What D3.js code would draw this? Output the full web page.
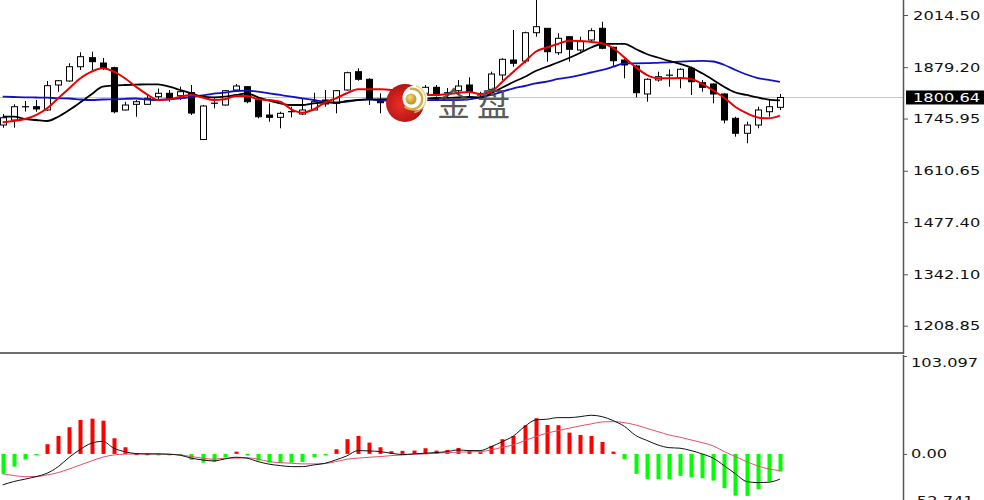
<!DOCTYPE html>
<html><head><meta charset="utf-8">
<script src="https://cdn.jsdelivr.net/npm/d3@7/dist/d3.min.js"></script>
<style>html,body{margin:0;padding:0;background:#fff;overflow:hidden}svg{display:block}</style>
</head><body>
<svg id="c" width="984" height="500"></svg>
<script>
// ---- data ----
const opens  = [1729.2,1742.2,1775.9,1776.7,1768.2,1833.0,1843.4,1880.4,1903.8,1890.0,1877.9,1768.2,1782.9,1782.9,1802.7,1811.5,1805.2,1813.5,1691.7,1785.0,1781.1,1820.0,1828.6,1794.1,1755.1,1749.2,1764.8,1757.7,1768.2,1794.1,1785.5,1820.0,1867.5,1847.8,1795.9,1788.9,1804.5,1799.3,1811.5,1827.0,1812.3,1818.2,1833.0,1805.8,1821.8,1858.9,1897.8,1895.2,1968.6,1980.0,1916.7,1958.2,1923.7,1949.7,1980.0,1930.8,1897.8,1882.3,1809.7,1846.0,1858.1,1850.4,1876.3,1839.0,1835.6,1809.7,1746.6,1707.8,1729.2,1763.7,1775.1];
const highs  = [1757.7,1782.9,1791.5,1794.1,1843.4,1846.0,1889.3,1917.8,1919.3,1903.0,1880.4,1789.7,1794.1,1807.1,1823.9,1820.0,1828.6,1833.0,1781.1,1798.5,1820.0,1835.6,1830.4,1798.5,1785.5,1763.7,1776.7,1798.5,1813.0,1820.0,1820.0,1867.5,1876.3,1850.4,1811.5,1809.7,1812.3,1817.4,1833.0,1833.0,1825.2,1846.0,1853.0,1815.6,1867.5,1902.2,1975.6,1971.2,2074.1,1980.0,1967.1,1958.2,1958.2,1980.0,1997.1,1932.3,1902.2,1884.9,1850.4,1867.5,1873.7,1876.3,1880.4,1846.0,1837.4,1811.5,1750.7,1737.8,1776.7,1796.7,1809.7];
const lows   = [1722.3,1722.3,1764.0,1763.7,1765.6,1815.6,1841.5,1871.9,1867.5,1871.9,1759.5,1766.9,1750.7,1781.1,1791.5,1789.7,1794.1,1755.1,1690.4,1772.5,1779.3,1815.6,1785.5,1746.6,1737.8,1720.7,1749.2,1755.1,1768.2,1776.7,1759.5,1818.7,1844.1,1781.1,1759.5,1783.7,1791.5,1796.7,1807.1,1802.7,1801.9,1807.1,1802.7,1798.5,1820.0,1846.0,1880.4,1889.3,1958.2,1893.4,1910.8,1893.4,1919.3,1945.3,1925.6,1880.4,1850.4,1801.1,1789.7,1841.5,1828.6,1824.4,1807.1,1815.6,1785.5,1733.6,1699.0,1681.9,1720.7,1750.7,1768.2];
const closes = [1748.1,1776.7,1777.2,1770.8,1831.2,1844.1,1880.4,1906.4,1893.4,1875.8,1763.7,1781.1,1789.7,1798.5,1811.5,1798.5,1815.6,1760.3,1778.5,1786.3,1818.2,1830.4,1789.7,1750.7,1749.2,1759.5,1762.9,1768.2,1789.7,1783.7,1818.2,1864.9,1847.8,1795.9,1787.1,1804.5,1796.7,1812.3,1827.0,1807.1,1813.5,1830.4,1815.6,1808.4,1861.5,1899.6,1889.3,1968.6,1984.2,1919.3,1954.1,1925.6,1945.3,1973.8,1928.2,1896.0,1884.9,1813.0,1847.8,1854.5,1858.9,1873.7,1841.5,1827.0,1809.7,1742.2,1707.8,1729.2,1768.2,1776.7,1800.64];

const maRed   = [1736.3,1739.6,1744.8,1755.1,1772.6,1798.5,1824.4,1850.4,1867.5,1876.3,1867.5,1850.4,1828.6,1808.9,1794.1,1795.9,1802.7,1807.1,1800.6,1794.1,1795.9,1804.5,1804.5,1795.9,1794.1,1789.7,1770.0,1761.2,1770.0,1787.1,1798.5,1811.5,1821.8,1821.8,1821.8,1820.0,1814.8,1809.7,1807.1,1807.1,1809.7,1812.3,1814.8,1809.7,1815.6,1841.5,1867.5,1892.6,1919.3,1930.2,1939.3,1947.9,1947.1,1944.5,1941.1,1928.2,1904.3,1879.7,1859.4,1850.6,1850.4,1851.1,1848.6,1836.1,1818.7,1799.3,1775.9,1759.9,1749.0,1746.6,1753.6];
const maBlack = [1750.8,1750.8,1744.8,1742.2,1739.6,1750.8,1768.2,1788.1,1808.9,1828.6,1831.7,1833.0,1833.8,1834.8,1834.8,1828.6,1820.0,1811.5,1802.7,1801.1,1802.7,1807.1,1811.5,1801.1,1792.3,1785.5,1781.1,1781.1,1785.5,1787.1,1787.1,1791.5,1794.1,1795.9,1795.9,1796.7,1796.7,1796.7,1798.0,1799.3,1799.3,1800.6,1801.9,1800.6,1811.5,1826.5,1840.8,1853.7,1869.3,1880.4,1891.3,1903.0,1916.0,1930.2,1939.3,1939.8,1939.8,1926.3,1913.4,1904.3,1895.7,1888.0,1878.4,1863.3,1846.0,1827.8,1813.6,1807.1,1800.6,1795.1,1793.3];
const maBlue  = [1802.7,1801.9,1801.1,1800.6,1800.1,1798.5,1798.0,1795.4,1794.1,1795.4,1795.9,1797.2,1798.0,1795.4,1794.1,1795.9,1798.5,1801.9,1805.8,1810.9,1813.0,1817.4,1818.2,1815.6,1811.5,1807.1,1802.7,1798.5,1794.1,1789.7,1787.1,1789.7,1794.1,1795.9,1792.8,1792.8,1792.8,1792.8,1793.3,1794.1,1794.1,1794.1,1795.9,1800.6,1807.1,1815.6,1824.4,1830.4,1837.4,1841.5,1848.6,1853.0,1858.9,1865.4,1871.9,1880.4,1889.3,1889.3,1889.5,1890.6,1891.9,1893.4,1894.7,1895.7,1893.9,1884.9,1871.9,1860.2,1851.1,1846.0,1840.8];

const macdHist = [-21.0,-13.4,-5.6,-1.4,10.2,18.9,28.1,35.8,37.1,35.0,16.5,7.0,0.3,0.2,-0.2,-1.1,-1.1,-6.3,-9.2,-8.4,-3.5,2.4,-1.4,-7.0,-9.2,-9.8,-9.2,-8.4,-3.5,-1.4,4.9,15.5,18.9,11.9,7.0,2.8,3.2,3.5,6.0,3.5,4.2,6.3,3.2,1.8,8.4,15.5,18.9,30.2,37.6,30.5,30.2,22.4,20.0,18.9,12.6,2.4,-5.6,-21.0,-26.3,-26.6,-26.6,-23.1,-24.5,-25.6,-28.1,-36.1,-43.9,-44.2,-37.1,-29.1,-18.6];
const macdLine = [-32.6,-29.1,-26.6,-23.9,-20.3,-13.4,-3.5,4.9,11.3,13.2,6.0,2.4,0.3,0,0,-0.3,-1.4,-4.5,-6.3,-7.4,-5.3,-3.5,-4.5,-8.1,-10.8,-12.3,-13.4,-13.4,-11.6,-10.0,-6.3,-2.1,3.5,3.2,2.4,0.7,-0.7,0,0.7,1.4,2.4,4.2,3.5,3.5,7.7,12.9,18.9,28.7,35.8,36.5,38.2,38.2,39.2,40.7,39.2,35.0,29.0,19.5,14.3,9.5,6.6,6.0,3.5,0,-4.5,-12.6,-21.0,-29.1,-30.2,-29.8,-26.6];
const signalLine = [-21.0,-22.8,-23.9,-23.9,-22.1,-19.7,-15.8,-11.6,-7.4,-3.5,-1.1,-0.3,0,0,0,-0.5,-1.1,-2.8,-4.5,-5.6,-4.5,-4.5,-4.0,-5.5,-8.1,-9.2,-9.8,-10.5,-10.5,-10.1,-8.1,-5.6,-4.5,-3.5,-2.8,-1.8,-1.1,-0.3,0,0.7,1.4,1.8,2.1,2.4,4.2,7.0,9.5,14.0,18.2,21.8,24.5,27.0,29.5,31.6,33.7,34.0,32.9,30.5,27.0,23.5,20.0,17.6,14.7,11.9,8.4,2.4,-2.8,-8.1,-12.6,-15.8,-17.6];

const priceTicks = [2014.50,1879.20,1745.95,1610.65,1477.40,1342.10,1208.85];
const macdTicks = [103.097,0,-52.741];
const macdTickLabels = ["103.097","0.00","-52.741"];
const lastPrice = 1800.64;
const logoText = "金盘";

// ---- layout ----
const svg = d3.select("#c");
const axisX = 904, mainBottom = 353;
const x = d3.scaleLinear().domain([0, opens.length - 1]).range([2.7, 779.9]);
const y = d3.scaleLinear().domain([1208.85, 2014.5]).range([325.7, 15]);
const ym = d3.scaleLinear().domain([-52.741, 103.097]).range([504, 356]);
const FONT = "'DejaVu Sans', Verdana, sans-serif";
const SX = 1.3;

svg.append("defs").append("clipPath").attr("id","mainClip")
  .append("rect").attr("x",0).attr("y",0).attr("width",axisX).attr("height",mainBottom-1);
svg.select("defs").append("clipPath").attr("id","macdClip")
  .append("rect").attr("x",0).attr("y",mainBottom+1).attr("width",axisX).attr("height",500-mainBottom);

const main = svg.append("g").attr("clip-path","url(#mainClip)");

// current price line
main.append("line").attr("x1",0).attr("x2",axisX).attr("y1",Math.round(y(lastPrice))+0.5).attr("y2",Math.round(y(lastPrice))+0.5)
  .attr("stroke","#c6c6c6").attr("stroke-width",1);

// candles
const idx = d3.range(opens.length);
const bw = 6;
const cg = main.append("g");
idx.forEach(i => {
  const cx = Math.round(x(i)) + 0.5;
  const o = y(opens[i]), c = y(closes[i]);
  cg.append("line").attr("x1",cx).attr("x2",cx).attr("y1",y(highs[i])).attr("y2",y(lows[i]))
    .attr("stroke","#000").attr("stroke-width",1);
  const top = Math.min(o,c), h = Math.abs(o-c);
  if (h < 1.2) {
    cg.append("line").attr("x1",cx-bw/2-0.5).attr("x2",cx+bw/2+0.5).attr("y1",(o+c)/2).attr("y2",(o+c)/2)
      .attr("stroke","#000").attr("stroke-width",1.2);
  } else {
    const bull = closes[i] >= opens[i];
    cg.append("rect").attr("x",cx-bw/2).attr("y",top).attr("width",bw).attr("height",h)
      .attr("fill", bull ? "#fff" : "#000").attr("stroke","#000").attr("stroke-width",1);
  }
});

// moving averages
const lineP = arr => d3.line().x((d,i)=>x(i)).y(d=>y(d)).curve(d3.curveMonotoneX)(arr);
main.append("path").attr("d",lineP(maBlue)).attr("fill","none").attr("stroke","#1212c4").attr("stroke-width",1.8);
main.append("path").attr("d",lineP(maBlack)).attr("fill","none").attr("stroke","#000").attr("stroke-width",1.8);
main.append("path").attr("d",lineP(maRed)).attr("fill","none").attr("stroke","#ee0000").attr("stroke-width",2);

// logo watermark
const logo = svg.append("g");
const defs = svg.select("defs");
const rg = defs.append("radialGradient").attr("id","redG").attr("cx","40%").attr("cy","55%").attr("r","65%");
rg.append("stop").attr("offset","0%").attr("stop-color","#e8302a");
rg.append("stop").attr("offset","100%").attr("stop-color","#a80c10");
const gg = defs.append("radialGradient").attr("id","goldG").attr("cx","40%").attr("cy","35%").attr("r","70%");
gg.append("stop").attr("offset","0%").attr("stop-color","#f3dc7a");
gg.append("stop").attr("offset","100%").attr("stop-color","#b08a20");
logo.append("circle").attr("cx",405).attr("cy",103).attr("r",19).attr("fill","url(#redG)");
logo.append("circle").attr("cx",415).attr("cy",98).attr("r",12.5).attr("fill","#fff");
logo.append("path").attr("d", d3.arc().innerRadius(9).outerRadius(11.5).startAngle(-0.2).endAngle(Math.PI*1.25)())
  .attr("transform","translate(412,99)").attr("fill","#d1ad48");
logo.append("path").attr("d", d3.arc().innerRadius(13).outerRadius(14.5).startAngle(0.3).endAngle(Math.PI*0.95)())
  .attr("transform","translate(412,99)").attr("fill","#e3c56a").attr("opacity",0.8);
logo.append("circle").attr("cx",411).attr("cy",99).attr("r",5.5).attr("fill","url(#goldG)");
logo.append("text").attr("x",437).attr("y",116).text(logoText)
  .attr("font-family","'Noto Sans CJK SC', sans-serif").attr("font-size",33).attr("letter-spacing",7)
  .attr("fill","#4a4a4a").attr("opacity",0.9);

// MACD pane
const mg = svg.append("g").attr("clip-path","url(#macdClip)");
idx.forEach(i => {
  const v = macdHist[i];
  const y0 = ym(0), y1 = ym(v);
  mg.append("rect").attr("x",Math.round(x(i))-1.5).attr("y",Math.min(y0,y1)).attr("width",4)
    .attr("height",Math.max(1.5,Math.abs(y1-y0)))
    .attr("fill", v >= 0 ? "#ff0000" : "#00ff00");
});
const lineM = arr => d3.line().x((d,i)=>x(i)).y(d=>ym(d)).curve(d3.curveMonotoneX)(arr);
mg.append("path").attr("d",lineM(signalLine)).attr("fill","none").attr("stroke","#e0506c").attr("stroke-width",1);
mg.append("path").attr("d",lineM(macdLine)).attr("fill","none").attr("stroke","#111").attr("stroke-width",1);

// pane divider & axis lines
svg.append("line").attr("x1",0).attr("x2",axisX).attr("y1",mainBottom).attr("y2",mainBottom)
  .attr("stroke","#6e6e6e").attr("stroke-width",2);
svg.append("line").attr("x1",axisX-0.5).attr("x2",axisX-0.5).attr("y1",0).attr("y2",mainBottom+1)
  .attr("stroke","#555").attr("stroke-width",1.5);
svg.append("line").attr("x1",axisX-0.5).attr("x2",axisX-0.5).attr("y1",mainBottom+2).attr("y2",500)
  .attr("stroke","#555").attr("stroke-width",1.5);

// price axis
const pAxis = svg.append("g").attr("transform",`translate(${axisX},0)`)
  .call(d3.axisRight(y).tickValues(priceTicks).tickSize(4).tickFormat(d3.format(".2f")));
pAxis.select(".domain").remove();
pAxis.selectAll(".tick line").attr("stroke","#555");
pAxis.selectAll(".tick text").attr("x",7).attr("font-family",FONT).attr("font-size",12.5).attr("fill","#111")
  .attr("transform",`scale(${SX},1)`);

// current price label
const ly = y(lastPrice);
svg.append("rect").attr("x",axisX+2).attr("y",ly-7).attr("width",984-axisX-2).attr("height",14).attr("fill","#000");
svg.append("text").attr("transform",`translate(${axisX+9},${ly}) scale(${SX},1)`).attr("dy","0.36em")
  .attr("font-family",FONT).attr("font-size",12.5).attr("fill","#fff").text(d3.format(".2f")(lastPrice));

// MACD axis
const mAxis = svg.append("g").attr("transform",`translate(${axisX},0)`)
  .call(d3.axisRight(ym).tickValues(macdTicks).tickSize(3).tickFormat((d,i)=>macdTickLabels[i]));
mAxis.select(".domain").remove();
mAxis.selectAll(".tick line").attr("stroke","#555");
mAxis.selectAll(".tick text").attr("x",5.4).attr("font-family",FONT).attr("font-size",12.5).attr("fill","#111")
  .attr("transform",`scale(${SX},1)`)
  .attr("dy",(d,i)=> i===0 ? "0.85em" : (i===2 ? "0.05em" : "0.32em"));
</script>
</body></html>
